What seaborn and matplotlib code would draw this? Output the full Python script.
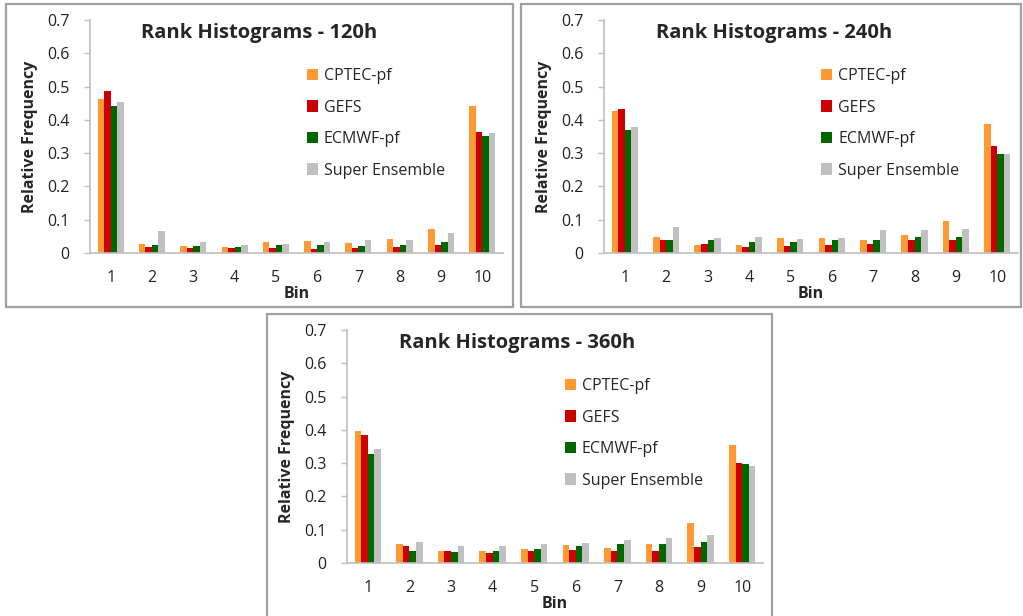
import numpy as np
import pandas as pd
import matplotlib
matplotlib.use('Agg')
import matplotlib.pyplot as plt
from matplotlib.patches import Rectangle
import seaborn as sns

sns.set_style("white")
plt.rcParams['font.family'] = ['Open Sans', 'DejaVu Sans']

# data
bins = [str(b) for b in range(1, 11)]
models = ['CPTEC-pf', 'GEFS', 'ECMWF-pf', 'Super Ensemble']
colors = ['#FF9933', '#CC0000', '#006600', '#C0C0C0']

# lead time 120h
cptec_120 = [0.463, 0.028, 0.022, 0.018, 0.034, 0.036, 0.029, 0.042, 0.073, 0.443]
gefs_120 = [0.487, 0.019, 0.016, 0.016, 0.016, 0.012, 0.014, 0.019, 0.023, 0.364]
ecmwf_120 = [0.443, 0.024, 0.021, 0.019, 0.023, 0.023, 0.021, 0.025, 0.034, 0.353]
super_120 = [0.454, 0.066, 0.032, 0.023, 0.027, 0.034, 0.038, 0.040, 0.060, 0.360]

# lead time 240h
cptec_240 = [0.428, 0.048, 0.025, 0.025, 0.044, 0.045, 0.040, 0.055, 0.095, 0.388]
gefs_240 = [0.434, 0.038, 0.027, 0.019, 0.021, 0.023, 0.027, 0.038, 0.038, 0.322]
ecmwf_240 = [0.369, 0.040, 0.039, 0.032, 0.034, 0.038, 0.038, 0.049, 0.049, 0.298]
super_240 = [0.379, 0.077, 0.044, 0.047, 0.041, 0.044, 0.068, 0.068, 0.071, 0.298]

# lead time 360h
cptec_360 = [0.398, 0.058, 0.035, 0.036, 0.043, 0.053, 0.045, 0.058, 0.121, 0.354]
gefs_360 = [0.386, 0.051, 0.037, 0.031, 0.037, 0.040, 0.036, 0.035, 0.049, 0.299]
ecmwf_360 = [0.328, 0.035, 0.033, 0.036, 0.043, 0.050, 0.057, 0.057, 0.062, 0.298]
super_360 = [0.342, 0.062, 0.051, 0.051, 0.056, 0.060, 0.068, 0.076, 0.084, 0.292]

panels = [
    ('Rank Histograms - 120h', [cptec_120, gefs_120, ecmwf_120, super_120]),
    ('Rank Histograms - 240h', [cptec_240, gefs_240, ecmwf_240, super_240]),
    ('Rank Histograms - 360h', [cptec_360, gefs_360, ecmwf_360, super_360]),
]

W, H = 1023, 616
fig = plt.figure(figsize=(W / 100, H / 100), dpi=100)

# pixel boxes: axes (left, right, top, bottom) and panel frame (left, right, top, bottom)
axes_px = [(90, 503, 20, 253), (604, 1018, 20, 253), (347, 763, 330, 563)]
frames_px = [(6, 513, 4, 307), (521, 1021, 4, 307), (267, 772, 314, 618)]

for (l, r, t, b) in frames_px:
    fig.patches.append(Rectangle((l / W, 1 - b / H), (r - l) / W, (b - t) / H,
                                 transform=fig.transFigure, fill=False,
                                 edgecolor='#A0A0A0', linewidth=1.6))

for (title, vals), (l, r, t, b) in zip(panels, axes_px):
    ax = fig.add_axes([l / W, 1 - b / H, (r - l) / W, (b - t) / H])
    rows = []
    for m, v in zip(models, vals):
        for bn, y in zip(bins, v):
            rows.append({'Bin': bn, 'Freq': y, 'Model': m})
    df = pd.DataFrame(rows)
    sns.barplot(data=df, x='Bin', y='Freq', hue='Model', hue_order=models,
                palette=colors, saturation=1, width=0.63, linewidth=0, ax=ax)

    ax.set_xlim(-0.5, 9.5)
    ax.set_ylim(0, 0.7)
    ax.set_yticks(np.arange(0, 0.71, 0.1))
    ax.set_yticklabels(['0', '0.1', '0.2', '0.3', '0.4', '0.5', '0.6', '0.7'])
    ax.set_xticks(np.arange(-0.5, 10, 1), minor=True)
    ax.tick_params(axis='x', which='major', length=0, pad=12, labelsize=11.5, colors='#222222')
    ax.tick_params(axis='x', which='minor', length=5, width=1, color='#BFBFBF', direction='out')
    ax.tick_params(axis='y', length=4, width=1, color='#BFBFBF', direction='out',
                   pad=11, labelsize=11.5, labelcolor='#222222', left=True)
    for s in ['top', 'right']:
        ax.spines[s].set_visible(False)
    for s in ['left', 'bottom']:
        ax.spines[s].set_color('#BFBFBF')
        ax.spines[s].set_linewidth(1.2)

    ax.set_xlabel('Bin', fontsize=11.5, fontweight='bold')
    ax.set_ylabel('Relative Frequency', fontsize=11.5, fontweight='bold')
    ax.xaxis.set_label_coords(0.5, -0.14)
    ax.yaxis.set_label_coords(-0.125, 0.5)

    ax.text(0.41, 0.945, title, transform=ax.transAxes, ha='center', va='center',
            fontsize=14.5, fontweight='bold')

    handles, labels = ax.get_legend_handles_labels()
    ax.legend(handles, labels, loc='upper left', bbox_to_anchor=(0.49, 0.855),
              frameon=False, fontsize=11.5, handlelength=0.7, handleheight=0.7,
              handletextpad=0.35, labelspacing=0.97)

fig.savefig('out.png', dpi=100, facecolor='white')
